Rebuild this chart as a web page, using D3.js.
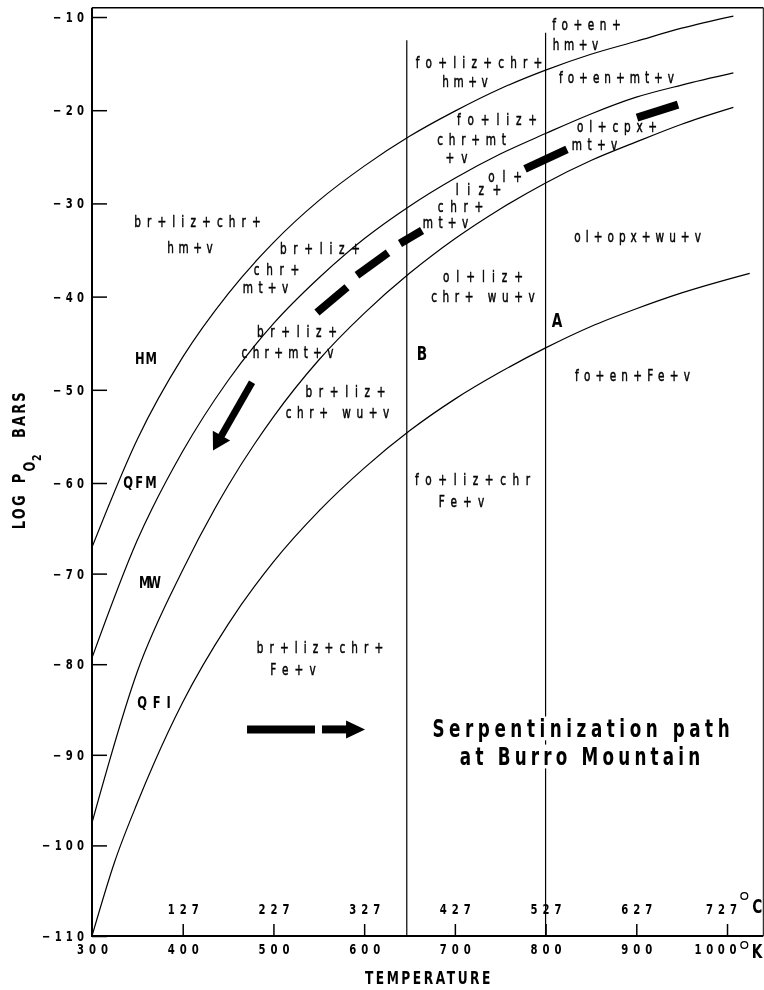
<!DOCTYPE html>
<html>
<head>
<meta charset="utf-8">
<script src="https://cdn.jsdelivr.net/npm/d3@7"></script>
<style>
  html, body { margin: 0; background: #fff; }
  svg { display: block; will-change: transform; }
  text { -webkit-font-smoothing: antialiased; }
</style>
</head>
<body>
<svg id="chart" width="764" height="990"></svg>
<script>
// ---- Oxygen buffer curves: log P(O2) in bars against temperature in kelvin ----
const tempK   = [300, 350, 400, 450, 500, 550, 600, 650, 700, 750, 800, 850, 900, 950, 1007];
const hmLogP  = [-67.1, -55.3, -46.5, -39.7, -34.2, -29.7, -26.0, -22.8, -20.1, -17.7, -15.7, -14.0, -12.6, -11.2, -9.9];
const qfmLogP = [-79.3, -66.3, -56.6, -49.0, -42.9, -38.0, -33.8, -30.3, -27.3, -24.7, -22.5, -20.4, -18.6, -17.3, -16.0];
const mwLogP  = [-97.5, -80.8, -69.6, -60.3, -52.9, -46.8, -41.8, -37.5, -33.8, -30.6, -27.8, -25.4, -23.4, -21.5, -19.7];
const qfiTempK = [300, 325, 350, 400, 450, 500, 550, 600, 650, 700, 750, 800, 850, 900, 950, 1025];
const qfiLogP  = [-110.0, -101.8, -95.3, -84.2, -75.6, -68.7, -63.1, -58.4, -54.4, -51.0, -48.1, -45.5, -43.2, -41.3, -39.6, -37.5];

const bufferNames     = ["HM", "QFM", "MW", "QFI"];
const bufferLabelT    = [359.5, 352.9, 363.9, 368.3];
const bufferLabelLogP = [-46.6, -59.9, -70.9, -84.2];

// ---- Vertical reaction boundaries ----
const boundaryNames     = ["B", "A"];
const boundaryT         = [647, 800];
const boundaryTopLogP   = [-12.5, -11.7];
const boundaryLabelT    = [663.8, 812.6];
const boundaryLabelLogP = [-46.1, -42.5];

// ---- Mineral assemblage labels ----
const phaseText = [
  "br+liz+chr+", "hm+v",
  "br+liz+", "chr+", "mt+v",
  "br+liz+", "chr+mt+v",
  "br+liz+", "chr+ wu+v",
  "fo+liz+chr+", "hm+v",
  "fo+en+", "hm+v",
  "fo+en+mt+v",
  "fo+liz+", "chr+mt", "+v",
  "ol+", "liz+", "chr+", "mt+v",
  "ol+cpx+", "mt+v",
  "ol+opx+wu+v",
  "ol+liz+", "chr+ wu+v",
  "fo+en+Fe+v",
  "fo+liz+chr", "Fe+v",
  "br+liz+chr+", "Fe+v"
];
const phaseT = [
  416.3, 408.0,
  551.3, 503.4, 491.3,
  526.0, 515.5,
  579.5, 570.6,
  726.6, 711.2,
  845.1, 833.0,
  878.2,
  746.5, 718.4, 701.8,
  755.3, 726.1, 706.2, 689.7,
  878.8, 854.0,
  901.4,
  731.0, 731.0,
  895.8,
  719.5, 707.3,
  551.3, 521.6
];
const phaseLogP = [
  -32.0, -34.8,
  -34.9, -37.1, -39.1,
  -43.8, -46.1,
  -50.2, -52.5,
  -14.9, -17.0,
  -10.9, -13.0,
  -16.5,
  -21.1, -23.2, -25.1,
  -27.2, -28.6, -30.4, -32.1,
  -21.8, -23.7,
  -33.6,
  -37.9, -40.0,
  -48.5,
  -59.7, -62.1,
  -78.2, -80.6
];

// ---- Serpentinization path (thick dashes) and its arrow ----
const dashFromT    = [946.0, 823.6, 663.8, 626.3, 581.1];
const dashFromLogP = [-19.4, -24.2, -32.9, -35.3, -39.0];
const dashToT      = [900.8, 777.3, 639.5, 592.1, 548.0];
const dashToLogP   = [-20.8, -26.3, -34.3, -37.7, -41.7];
const arrowFromT = 476.4, arrowFromLogP = -49.2;
const arrowTipT  = 433.4, arrowTipLogP  = -56.5;

// key arrow beside the caption
const keyBarT  = [470.9, 545.8, 553.5, 601.0];
const keyLogP  = -87.2;
const captionLines = ["Serpentinization path", "at Burro Mountain"];
const captionT     = [839.1, 838.0];
const captionLogP  = [-87.1, -90.2];

// ---- Axis ticks ----
const kelvinTicks  = [300, 400, 500, 600, 700, 800, 900, 1000];
const celsiusTicks = [400, 500, 600, 700, 800, 900, 1000];
const logPTicks    = [-110, -100, -90, -80, -70, -60, -50, -40, -30, -20, -10];

// ---------------------------------------------------------------------------
const svg = d3.select("#chart");
const face = "'DejaVu Sans','Liberation Sans',sans-serif";

const x = d3.scaleLinear().domain([300, 1040]).range([92, 763.3]);
const y = d3.scaleLinear().domain([-110, -60, -9]).range([936, 483, 7.7]);

// tall, narrow, evenly pitched lettering: squeeze glyphs horizontally and
// spread them so each string covers `p` pixels per character
function letter(sel, sx, p, trim) {
  sel.each(function () {
    const t = d3.select(this);
    const tx = (+t.attr("x") || 0) + (+t.attr("data-shift") || 0), ty = +t.attr("y") || 0;
    const n = this.textContent.length;
    t.attr("x", 0).attr("y", 0)
      .attr("transform", `translate(${tx},${ty}) scale(${sx},1)`);
    if (p) t.attr("textLength", (p * n - trim) / sx).attr("lengthAdjust", "spacing");
  });
}

// ---- Frame ----
const [x0, x1] = x.range();
const yTop = y(-9), yBot = y(-110);
svg.append("line").attr("x1", x0).attr("x2", x1).attr("y1", yTop).attr("y2", yTop)
  .attr("stroke", "#000").attr("stroke-width", 1.6);
svg.append("line").attr("x1", x1).attr("x2", x1).attr("y1", yTop).attr("y2", yBot)
  .attr("stroke", "#000").attr("stroke-width", 1);
svg.append("line").attr("x1", x0).attr("x2", x0).attr("y1", yTop).attr("y2", yBot + 1)
  .attr("stroke", "#000").attr("stroke-width", 2);
svg.append("line").attr("x1", x0 - 1).attr("x2", x1).attr("y1", yBot).attr("y2", yBot)
  .attr("stroke", "#000").attr("stroke-width", 2.2);

// ---- Left axis ----
const gy = svg.append("g").attr("transform", `translate(${x0},0)`)
  .call(d3.axisLeft(y).tickValues(logPTicks).tickSizeInner(-15).tickSizeOuter(0).tickPadding(8));
gy.select(".domain").remove();
gy.selectAll(".tick line").attr("stroke", "#000").attr("stroke-width", 1.5);
gy.selectAll(".tick text").attr("font-family", face).attr("font-weight", "bold")
  .attr("font-size", 14).attr("fill", "#000").call(letter, 0.72, 11, 2);

// ---- Bottom axis (kelvin below, celsius above) ----
const lastK = kelvinTicks[kelvinTicks.length - 1];
const gx = svg.append("g").attr("transform", `translate(0,${yBot})`)
  .call(d3.axisBottom(x).tickValues(kelvinTicks).tickFormat(d3.format("d"))
    .tickSizeInner(-12).tickSizeOuter(0).tickPadding(8));
gx.select(".domain").remove();
gx.selectAll(".tick line").attr("stroke", "#000").attr("stroke-width", 1.5)
  .filter(d => d === 300).remove();
gx.selectAll(".tick text").attr("font-family", face).attr("font-weight", "bold")
  .attr("font-size", 14).attr("fill", "#000")
  .attr("data-shift", d => d === lastK ? -12 : 0)
  .call(letter, 0.72, 11, 2);

const gc = svg.append("g").attr("transform", `translate(0,${yBot})`)
  .call(d3.axisTop(x).tickValues(celsiusTicks).tickSize(0).tickPadding(22)
    .tickFormat(d => d3.format("d")(d - 273)));
gc.select(".domain").remove();
gc.selectAll(".tick text").attr("font-family", face).attr("font-weight", "bold")
  .attr("font-size", 14).attr("fill", "#000")
  .attr("data-shift", d => d === lastK ? -6 : 0)
  .call(letter, 0.72, 11, 2);

// degree marks closing the two temperature scales
[["C", yBot - 23, yBot - 40], ["K", yBot + 22, yBot + 9]].forEach(([u, base, ring]) => {
  svg.append("circle").attr("cx", x1 - 19).attr("cy", ring).attr("r", 3.4)
    .attr("fill", "none").attr("stroke", "#000").attr("stroke-width", 1.3);
  svg.append("text").attr("x", x1 - 1).attr("y", base).attr("text-anchor", "end").text(u)
    .attr("font-family", face).attr("font-weight", "bold").attr("font-size", 19)
    .call(letter, 0.72);
});

// axis titles
svg.append("text").attr("x", x(670)).attr("y", 984).attr("text-anchor", "middle")
  .attr("font-family", face).attr("font-weight", "bold").attr("font-size", 17)
  .text("TEMPERATURE").call(letter, 0.72, 11.5, 1);

const yl = svg.append("text")
  .attr("transform", `translate(25,${y(-57.5)}) rotate(-90) scale(0.72,1)`)
  .attr("text-anchor", "middle").attr("font-family", face).attr("font-weight", "bold")
  .attr("font-size", 18).attr("letter-spacing", 3);
yl.append("tspan").text("LOG");
yl.append("tspan").attr("dx", 14).text("P");
yl.append("tspan").attr("dx", 0).attr("dy", 10).attr("font-size", 16).text("O");
yl.append("tspan").attr("dx", -2).attr("dy", 6).attr("font-size", 13).text("2");
yl.append("tspan").attr("dx", 20).attr("dy", -16).text("BARS");

// ---- Buffer curves ----
const line = d3.line().x(d => x(d[0])).y(d => y(d[1])).curve(d3.curveMonotoneX);
const curves = [
  d3.zip(tempK, hmLogP),
  d3.zip(tempK, qfmLogP),
  d3.zip(tempK, mwLogP),
  d3.zip(qfiTempK, qfiLogP)
];
svg.append("g").selectAll("path").data(curves).join("path")
  .attr("d", line).attr("fill", "none").attr("stroke", "#000").attr("stroke-width", 1.2);

svg.append("g").selectAll("text").data(bufferNames).join("text")
  .attr("x", (d, i) => x(bufferLabelT[i])).attr("y", (d, i) => y(bufferLabelLogP[i]) + 6)
  .attr("text-anchor", "middle")
  .attr("font-family", face).attr("font-weight", "bold").attr("font-size", 16)
  .text(d => d).call(letter, 0.72, 11.5, 1);

// ---- Vertical boundaries A and B ----
svg.append("g").selectAll("line").data(boundaryT).join("line")
  .attr("x1", d => x(d)).attr("x2", d => x(d))
  .attr("y1", (d, i) => y(boundaryTopLogP[i])).attr("y2", yBot)
  .attr("stroke", "#000").attr("stroke-width", 1.2);

svg.append("g").selectAll("text").data(boundaryNames).join("text")
  .attr("x", (d, i) => x(boundaryLabelT[i])).attr("y", (d, i) => y(boundaryLabelLogP[i]) + 7)
  .attr("text-anchor", "middle")
  .attr("font-family", face).attr("font-weight", "bold").attr("font-size", 19)
  .text(d => d).call(letter, 0.72);

// ---- Assemblage labels ----
svg.append("g").selectAll("text").data(phaseText).join("text")
  .attr("x", (d, i) => x(phaseT[i])).attr("y", (d, i) => y(phaseLogP[i]) + 5)
  .attr("text-anchor", "middle")
  .attr("font-family", face).attr("font-size", 15)
  .attr("stroke", "#000").attr("stroke-width", 0.5)
  .text(d => d).call(letter, 0.7, 11.6, 1);

// ---- Serpentinization path ----
svg.append("g").selectAll("line").data(dashFromT).join("line")
  .attr("x1", d => x(d)).attr("y1", (d, i) => y(dashFromLogP[i]))
  .attr("x2", (d, i) => x(dashToT[i])).attr("y2", (d, i) => y(dashToLogP[i]))
  .attr("stroke", "#000").attr("stroke-width", 8);

function arrow(p0, p1, width, headLen, headHalf) {
  const dx = p1[0] - p0[0], dy = p1[1] - p0[1];
  const len = Math.hypot(dx, dy), ux = dx / len, uy = dy / len;
  const bx = p1[0] - ux * headLen, by = p1[1] - uy * headLen;
  svg.append("line").attr("x1", p0[0]).attr("y1", p0[1])
    .attr("x2", bx + ux).attr("y2", by + uy)
    .attr("stroke", "#000").attr("stroke-width", width);
  svg.append("path").attr("fill", "#000").attr("d",
    `M${p1[0]},${p1[1]}L${bx - uy * headHalf},${by + ux * headHalf}L${bx + uy * headHalf},${by - ux * headHalf}Z`);
}
arrow([x(arrowFromT), y(arrowFromLogP)], [x(arrowTipT), y(arrowTipLogP)], 7, 17, 10);

// key arrow: one long dash, then a short dash ending in a head
svg.append("line").attr("x1", x(keyBarT[0])).attr("x2", x(keyBarT[1]))
  .attr("y1", y(keyLogP)).attr("y2", y(keyLogP)).attr("stroke", "#000").attr("stroke-width", 8);
arrow([x(keyBarT[2]), y(keyLogP)], [x(keyBarT[3]), y(keyLogP)], 8, 19, 9);

// caption on a white backing so the boundary line stops behind it
const cap = svg.append("g");
const capText = cap.selectAll("text").data(captionLines).join("text")
  .attr("x", (d, i) => x(captionT[i])).attr("y", (d, i) => y(captionLogP[i]) + 8)
  .attr("text-anchor", "middle")
  .attr("font-family", face).attr("font-weight", "bold").attr("font-size", 24)
  .text(d => d).call(letter, 0.7, 14.2, 1);
capText.each(function () {
  const b = this.getBoundingClientRect();
  cap.insert("rect", "text").attr("x", b.x - 4).attr("y", b.y + 2)
    .attr("width", b.width + 8).attr("height", b.height - 4).attr("fill", "#fff");
});
</script>
</body>
</html>
